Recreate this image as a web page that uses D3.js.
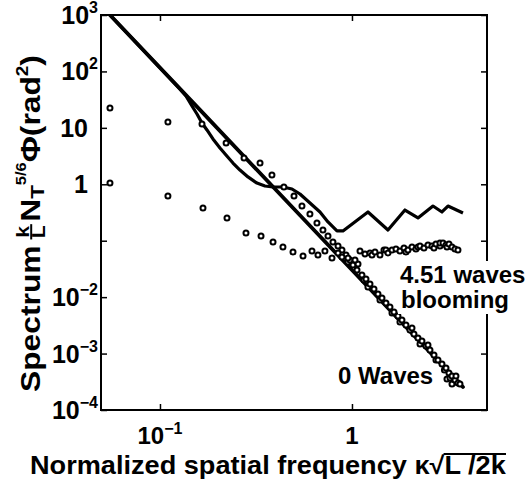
<!DOCTYPE html>
<html><head><meta charset="utf-8">
<script src="https://cdn.jsdelivr.net/npm/d3@7"></script>
<style>
html,body{margin:0;padding:0;background:#fff;}
svg{display:block;}
text{font-family:"Liberation Sans",Arial,Helvetica,sans-serif;font-weight:bold;fill:#000;}
</style>
</head><body>
<svg id="chart" width="532" height="480"></svg>
<script>
// ---------- data ----------
// theory curve, 0 waves (straight Kolmogorov line)
const theoryNoWavesX = [0.0549, 0.1616, 0.536, 1.0, 1.778, 3.786];
const theoryNoWavesY = [1000, 20.8, 0.282, 0.0303, 0.00383, 0.000256];

// theory curve, 4.51 waves blooming
const theoryBloomX = [0.0549,0.1271,0.1366,0.1468,0.1559,0.1655,0.1757,0.1888,0.2054,0.2207,0.2400,0.2610,0.2873,0.3199,0.3522,0.3878,0.4371,0.4870,0.5360,0.6043,0.6813,0.7499,0.8353,0.8977,1.2115,1.540,1.888,2.207,2.642,2.943,3.162,3.786];
const theoryBloomY = [1000,48.8,36.7,24.4,17.6,12.2,9.17,6.35,4.40,3.30,2.38,1.79,1.35,1.05,0.933,0.895,0.895,0.825,0.673,0.466,0.323,0.215,0.149,0.149,0.323,0.155,0.350,0.253,0.412,0.323,0.412,0.310];

// measured, 0 waves
const dataNoWavesX = [0.0549,0.110,0.1655,0.221,0.274,0.332,0.383,0.442,0.499,0.549,0.604,0.657,0.706,0.750,0.796,0.846,0.887,0.931,0.953,0.976,1.012,1.062,1.075,1.127,1.155,1.183,1.211,1.241,1.302,1.366,1.399,1.433,1.503,1.577,1.616,1.655,1.736,1.778,1.821,1.911,2.005,2.054,2.103,2.207,2.261,2.315,2.429,2.488,2.548,2.674,2.738,2.805,2.943,3.03,3.088,3.125,3.200,3.24,3.318,3.318,3.440,3.48,3.565,3.652];
const dataNoWavesY = [22.5,12.7,11.7,5.39,2.92,2.38,1.46,0.895,0.62,0.412,0.298,0.206,0.155,0.121,0.0949,0.0806,0.0685,0.0558,0.0420,0.0455,0.0371,0.0303,0.0387,0.0247,0.0201,0.0210,0.0151,0.0171,0.0139,0.0114,0.00891,0.00966,0.00787,0.00668,0.00524,0.00546,0.00463,0.00363,0.00394,0.00321,0.00262,0.00284,0.00222,0.00189,0.00148,0.00167,0.00136,0.00142,0.00116,0.000944,0.000769,0.000769,0.000653,0.000512,0.000556,0.000355,0.000453,0.000369,0.000401,0.000289,0.000340,0.000401,0.000301,0.000289];

// measured, 4.51 waves blooming
const dataBloomX = [0.0549,0.110,0.1675,0.2234,0.2805,0.336,0.388,0.437,0.493,0.556,0.619,0.665,0.723,0.787,0.846,0.887,0.953,1.037,1.101,1.169,1.241,1.271,1.318,1.399,1.468,1.503,1.540,1.616,1.695,1.778,1.866,1.911,1.957,2.054,2.154,2.207,2.261,2.371,2.488,2.610,2.674,2.738,2.873,2.873,2.979,3.088,3.125,3.200,3.318,3.440,3.565];
const dataBloomY = [1.05,0.62,0.38,0.253,0.137,0.121,0.0949,0.0774,0.0631,0.0536,0.0657,0.0558,0.0657,0.0494,0.0606,0.0515,0.0494,0.0455,0.0657,0.0582,0.0606,0.0558,0.0631,0.0558,0.0685,0.0685,0.0606,0.0685,0.0713,0.0657,0.0743,0.0631,0.0685,0.0774,0.0713,0.0774,0.0806,0.0743,0.084,0.0806,0.0743,0.0875,0.0806,0.0912,0.0912,0.084,0.0774,0.0875,0.0774,0.0713,0.0685];

// ticks
const xTickValues = [0.1, 1];
const xTickBase = ["10", "1"];
const xTickExp = ["\u22121", ""];
const yTickValues = [1e3, 1e2, 10, 1, 0.1, 0.01, 1e-3, 1e-4];
const yTickBase = ["10", "10", "10", "1", "", "10", "10", "10"];
const yTickExp = ["3", "2", "", "", "", "\u22122", "\u22123", "\u22124"];

const xTitle = "Normalized spatial frequency \u03BA\u221AL /2k";
const yTitleWord = "Spectrum";
const seriesLabels = ["4.51 waves", "blooming", "0 Waves"];

// ---------- layout ----------
const W = 532, H = 480;
const P = {left: 101, right: 487, top: 15, bottom: 410};
const x = d3.scaleLog().domain([0.0493, 5.05]).range([P.left, P.right]);
const y = d3.scaleLog().domain([1e-4, 1e3]).range([P.bottom, P.top]);

const svg = d3.select('#chart');
svg.append('rect').attr('width', W).attr('height', H).attr('fill', '#fff');
svg.append('defs').append('clipPath').attr('id', 'clip')
  .append('rect').attr('x', P.left).attr('y', P.top)
  .attr('width', P.right - P.left).attr('height', P.bottom - P.top);

const gData = svg.append('g').attr('clip-path', 'url(#clip)');
const line = d3.line().x(d => x(d[0])).y(d => y(d[1]));

gData.append('path').datum(d3.zip(theoryNoWavesX, theoryNoWavesY))
  .attr('d', line).attr('fill', 'none').attr('stroke', '#000')
  .attr('stroke-width', 3.8).attr('stroke-linecap', 'round');
gData.append('path').datum(d3.zip(theoryBloomX, theoryBloomY))
  .attr('d', line).attr('fill', 'none').attr('stroke', '#000')
  .attr('stroke-width', 3.2).attr('stroke-linejoin', 'round');

function dots(xs, ys) {
  gData.append('g').selectAll('circle').data(d3.zip(xs, ys)).join('circle')
    .attr('cx', d => x(d[0])).attr('cy', d => y(d[1])).attr('r', 2.5)
    .attr('fill', '#fff').attr('stroke', '#000').attr('stroke-width', 2);
}
dots(dataNoWavesX, dataNoWavesY);
dots(dataBloomX, dataBloomY);

// ---------- axes ----------
function styleAxis(g) {
  g.select('.domain').remove();
  g.selectAll('.tick line').attr('stroke', '#000').attr('stroke-width', 1.5);
}
svg.append('g').attr('transform', `translate(${P.left},0)`)
  .call(d3.axisLeft(y).tickValues(yTickValues).tickSize(-6).tickFormat('')).call(styleAxis);
svg.append('g').attr('transform', `translate(${P.right},0)`)
  .call(d3.axisRight(y).tickValues(yTickValues).tickSize(-6).tickFormat('')).call(styleAxis);
svg.append('g').attr('transform', `translate(0,${P.bottom})`)
  .call(d3.axisBottom(x).tickValues(xTickValues).tickSize(-6).tickFormat('')).call(styleAxis);
svg.append('g').attr('transform', `translate(0,${P.top})`)
  .call(d3.axisTop(x).tickValues(xTickValues).tickSize(-6).tickFormat('')).call(styleAxis);

svg.append('rect').attr('x', P.left).attr('y', P.top)
  .attr('width', P.right - P.left).attr('height', P.bottom - P.top)
  .attr('fill', 'none').attr('stroke', '#000').attr('stroke-width', 2);

// y tick labels
yTickValues.forEach((v, i) => {
  if (!yTickBase[i]) return;
  const t = svg.append('text')
    .attr('x', yTickExp[i] ? 98 : 88).attr('y', y(v) + 9)
    .attr('text-anchor', 'end').style('font-size', '25px');
  t.append('tspan').text(yTickBase[i]);
  if (yTickExp[i]) t.append('tspan').attr('dy', -11).style('font-size', '16px').text(yTickExp[i]);
});
// x tick labels
xTickValues.forEach((v, i) => {
  const t = svg.append('text')
    .attr('x', x(v)).attr('y', 444)
    .attr('text-anchor', 'middle').style('font-size', '24px');
  t.append('tspan').text(xTickBase[i]);
  if (xTickExp[i]) t.append('tspan').attr('dy', -10).style('font-size', '16px').text(xTickExp[i]);
});

// ---------- series labels ----------
svg.append('rect').attr('x', 398).attr('y', 261).attr('width', 134).attr('height', 53).attr('fill', '#fff');
svg.append('text').attr('x', 400).attr('y', 283).style('font-size', '24px').text(seriesLabels[0]);
svg.append('text').attr('x', 401).attr('y', 308).style('font-size', '24px').text(seriesLabels[1]);
svg.append('text').attr('x', 338).attr('y', 384).style('font-size', '24px').text(seriesLabels[2]);

// ---------- x title ----------
const xT = svg.append('g').attr('transform', 'translate(30,474)');
const xTi = xT.append('g');
const xt = xTi.append('text').style('font-size', '25px').text(xTitle);
{
  const n = xt.node();
  const iL = xTitle.indexOf('L');
  const sq = n.getExtentOfChar(iL - 1);
  const en = n.getExtentOfChar(xTitle.length - 1);
  xTi.append('line').attr('x1', sq.x + sq.width - 1).attr('x2', en.x + en.width)
    .attr('y1', -20).attr('y2', -20).attr('stroke', '#000').attr('stroke-width', 2);
  const total = n.getComputedTextLength();
  xTi.attr('transform', `scale(${476 / total},1)`);
}

// ---------- y title ----------
const yT = svg.append('g').attr('transform', 'translate(40,392) rotate(-90)');
const yTi = yT.append('g');
{
  const s1 = yTi.append('text').attr('x', 0).attr('y', 0).style('font-size', '27px').text(yTitleWord);
  let cur = s1.node().getComputedTextLength() + 6;
  const kT = yTi.append('text').attr('y', -11).style('font-size', '18px').text('k');
  const lT = yTi.append('text').attr('y', 5).style('font-size', '18px').text('L');
  const kw = kT.node().getComputedTextLength(), lw = lT.node().getComputedTextLength();
  const fw = Math.max(kw, lw);
  kT.attr('x', cur + (fw - kw) / 2);
  lT.attr('x', cur + (fw - lw) / 2);
  yTi.append('line').attr('x1', cur - 1).attr('x2', cur + fw + 1)
    .attr('y1', -8.8).attr('y2', -8.8).attr('stroke', '#000').attr('stroke-width', 2);
  cur += fw + 3;
  const rest = yTi.append('text').attr('x', cur).attr('y', 0).style('font-size', '27px');
  rest.append('tspan').text('N');
  rest.append('tspan').attr('dy', 4).style('font-size', '19px').text('T');
  rest.append('tspan').attr('dy', -18).style('font-size', '14px').text('5/6');
  rest.append('tspan').attr('dy', 14).style('font-size', '27px').text('\u03A6(rad');
  rest.append('tspan').attr('dy', -12).style('font-size', '16px').text('2');
  rest.append('tspan').attr('dy', 12).style('font-size', '27px').text(')');
  const total = cur + rest.node().getComputedTextLength();
  yTi.attr('transform', `scale(${337 / total},1)`);
}
</script>
</body></html>
